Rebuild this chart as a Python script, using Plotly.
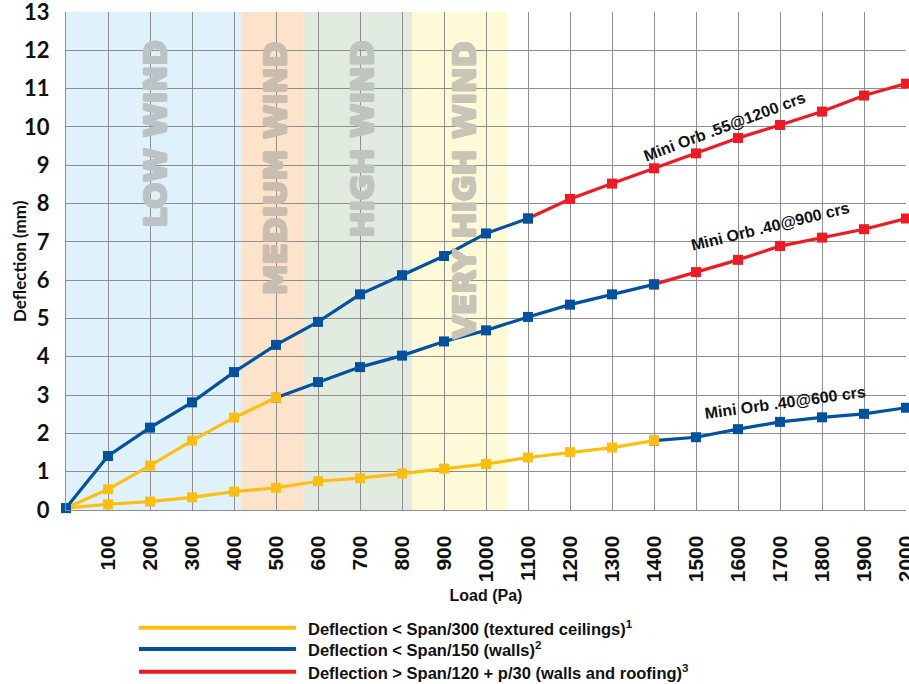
import plotly.graph_objects as go

# ---------------- data ----------------
loads = [0, 100, 200, 300, 400, 500, 600, 700, 800, 900, 1000,
         1100, 1200, 1300, 1400, 1500, 1600, 1700, 1800, 1900, 2000]

# Mini Orb .40 @ 600 crs
defl_orb40_600 = [0.05, 0.15, 0.22, 0.33, 0.48, 0.58, 0.75, 0.83, 0.95, 1.08, 1.20,
                  1.37, 1.51, 1.63, 1.81, 1.90, 2.11, 2.30, 2.42, 2.51, 2.67]
# Mini Orb .40 @ 900 crs
defl_orb40_900 = [0.05, 0.54, 1.16, 1.81, 2.41, 2.93, 3.34, 3.73, 4.03, 4.40, 4.69,
                  5.04, 5.36, 5.63, 5.89, 6.21, 6.53, 6.89, 7.11, 7.33, 7.61]
# Mini Orb .55 @ 1200 crs
defl_orb55_1200 = [0.05, 1.41, 2.15, 2.81, 3.60, 4.31, 4.91, 5.63, 6.13, 6.63, 7.22,
                   7.61, 8.12, 8.52, 8.92, 9.31, 9.71, 10.05, 10.40, 10.82, 11.13]

# criterion governing each load range (start load, end load, criterion)
criteria_orb40_600 = [("ceil", 0, 1400), ("wall", 1400, 2000)]
criteria_orb40_900 = [("ceil", 0, 500), ("wall", 500, 1400), ("roof", 1400, 2000)]
criteria_orb55_1200 = [("wall", 0, 1100), ("roof", 1100, 2000)]

curve_labels = ["Mini Orb .40@600 crs", "Mini Orb .40@900 crs", "Mini Orb .55@1200 crs"]
label_pos_load = [1712, 1676, 1569]
label_pos_defl = [2.80, 7.41, 10.0]
label_angle = [-7.8, -13.6, -20.4]

# wind zones (load ranges)
wind_names = ["LOW WIND", "MEDIUM WIND", "HIGH WIND", "VERY HIGH WIND"]
wind_start = [0, 417, 565, 824]
wind_end = [417, 565, 824, 1050]
wind_label_load = [212, 498, 705, 948]

legend_texts = [
    "Deflection < Span/300 (textured ceilings)<sup>1</sup>",
    "Deflection < Span/150 (walls)<sup>2</sup>",
    "Deflection > Span/120 + p/30 (walls and roofing)<sup>3</sup>",
]

x_ticks = list(range(100, 2001, 100))
y_ticks = list(range(0, 14))

# ---------------- styles ----------------
COL = {"ceil": "#FDBE12", "wall": "#0052A1", "roof": "#ED1C24"}
wind_fill = ["#DFF1FB", "#FDE3C9", "#E2EBE0", "#FEF9D6"]
wind_text = ["#BCC3C6", "#C9BDB0", "#BFC4BF", "#C8C5B6"]
GRID = "#8E8E8E"

fig = go.Figure()

curves = [
    (defl_orb40_600, criteria_orb40_600),
    (defl_orb40_900, criteria_orb40_900),
    (defl_orb55_1200, criteria_orb55_1200),
]

for vals, crit in curves:
    # later segments drawn first so junction markers take the earlier colour
    for key, a, b in reversed(crit):
        xs = [l for l in loads if a <= l <= b]
        ys = [v for l, v in zip(loads, vals) if a <= l <= b]
        fig.add_trace(go.Scatter(
            x=xs, y=ys, mode="lines+markers",
            line=dict(color=COL[key], width=3.2),
            marker=dict(symbol="square", size=10, color=COL[key]),
            showlegend=False, hoverinfo="skip", cliponaxis=False,
        ))

shapes = []
for s, e, c in zip(wind_start, wind_end, wind_fill):
    shapes.append(dict(type="rect", xref="x", yref="y", x0=s, x1=e, y0=0, y1=13,
                       fillcolor=c, line=dict(width=0), layer="below"))

annotations = []
for name, xl, tc in zip(wind_names, wind_label_load, wind_text):
    sh = ", ".join(f"{dx}px {dy}px 0 {tc}" for dx, dy in
                   [(1, 1), (-1, -1), (1, -1), (-1, 1), (1, 0), (-1, 0), (0, 1), (0, -1)])
    annotations.append(dict(
        x=xl, y=12.3, xref="x", yref="y", text=name,
        textangle=-90, xanchor="center", yanchor="top", showarrow=False,
        font=dict(family="DejaVu Sans", size=31, weight="bold", color=tc, shadow=sh),
    ))

for t, xl, yl, ang in zip(curve_labels, label_pos_load, label_pos_defl, label_angle):
    annotations.append(dict(
        x=xl, y=yl, xref="x", yref="y", text="<b>" + t + "</b>", textangle=ang,
        showarrow=False, font=dict(family="Liberation Sans", size=16, color="#111111"),
    ))

# y-axis title
annotations.append(dict(x=-0.056, y=0.5, xref="paper", yref="paper",
                        text="<b>Deflection (mm)</b>", textangle=-90, showarrow=False,
                        xanchor="center", yanchor="middle",
                        font=dict(family="Lato", size=17, color="#111111")))

# legend (drawn manually)
leg_keys = ["ceil", "wall", "roof"]
leg_y = [-0.2363, -0.2791, -0.3247]
for k, yy, t in zip(leg_keys, leg_y, legend_texts):
    shapes.append(dict(type="line", xref="paper", yref="paper", x0=0.0869, x1=0.2738,
                       y0=yy, y1=yy, line=dict(color=COL[k], width=4)))
    annotations.append(dict(x=0.2857, y=yy, xref="paper", yref="paper", text="<b>" + t + "</b>",
                            xanchor="left", yanchor="middle", showarrow=False,
                            font=dict(family="Liberation Sans", size=16.5, color="#111111")))

fig.update_layout(
    width=909, height=684,
    margin=dict(l=66, r=3, t=12, b=174, autoexpand=False),
    paper_bgcolor="white", plot_bgcolor="white",
    shapes=shapes, annotations=annotations,
    showlegend=False,
)

fig.update_xaxes(
    range=[0, 2000], tickvals=x_ticks, ticktext=[str(v) for v in x_ticks],
    tickangle=-90, showgrid=True, gridcolor=GRID, gridwidth=1.3,
    showline=True, linecolor=GRID, linewidth=1.3, zeroline=False,
    ticks="outside", ticklen=16, tickcolor="rgba(0,0,0,0)",
    automargin=False, ticklabeloverflow="allow",
    tickfont=dict(family="Liberation Sans", size=21, color="#111111", weight="bold"),
    title=dict(text="<b>Load (Pa)</b>", font=dict(family="Liberation Sans", size=16, color="#111111"),
               standoff=8),
)
fig.update_yaxes(
    range=[0, 13], tickvals=y_ticks, showgrid=True, gridcolor=GRID, gridwidth=1.3,
    showline=True, linecolor=GRID, linewidth=1.3, zeroline=False,
    ticks="outside", ticklen=11, tickcolor="rgba(0,0,0,0)",
    automargin=False, ticklabeloverflow="allow",
    tickfont=dict(family="Lato", size=22, color="#111111", weight="bold"),
)

fig.write_html("out.html", config={"displayModeBar": False},
               post_script="document.body.style.margin='0';document.body.style.overflow='hidden';")
